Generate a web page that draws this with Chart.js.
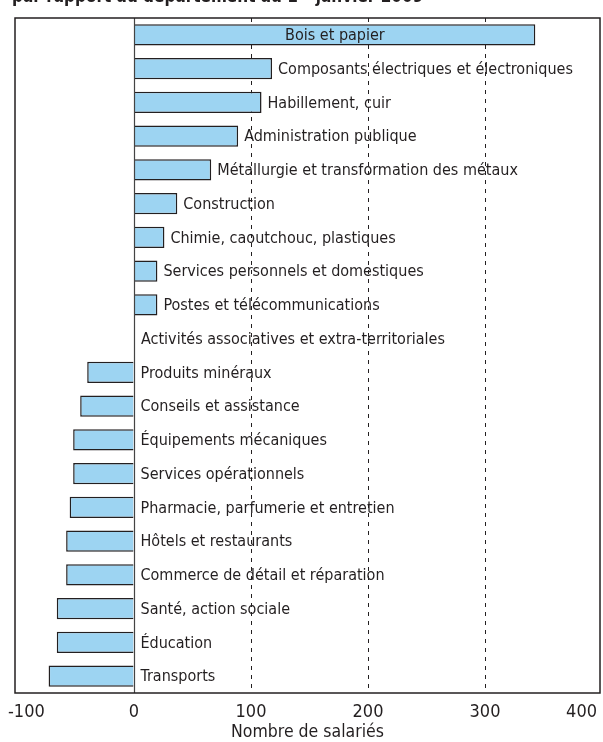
<!DOCTYPE html>
<html lang="fr">
<head>
<meta charset="utf-8">
<script src="https://cdn.jsdelivr.net/npm/chart.js@4"></script>
<style>
    html, body { margin: 0; padding: 0; background: #fff; }
    #wrap { width: 603px; height: 742px; }
</style>
</head>
<body>
<div id="wrap"><canvas id="salariesChart" width="603" height="742"></canvas></div>
<script>
// Données
const secteurs = [
    'Bois et papier',
    'Composants électriques et électroniques',
    'Habillement, cuir',
    'Administration publique',
    'Métallurgie et transformation des métaux',
    'Construction',
    'Chimie, caoutchouc, plastiques',
    'Services personnels et domestiques',
    'Postes et télécommunications',
    'Activités associatives et extra-territoriales',
    'Produits minéraux',
    'Conseils et assistance',
    'Équipements mécaniques',
    'Services opérationnels',
    'Pharmacie, parfumerie et entretien',
    'Hôtels et restaurants',
    'Commerce de détail et réparation',
    'Santé, action sociale',
    'Éducation',
    'Transports'
];
const ecarts = [343, 118, 109, 89, 66, 37, 26, 20, 20, 0, -40, -46, -52, -52, -55, -58, -58, -66, -66, -73];
const graduations = [-100, 0, 100, 200, 300, 400];

const TEXT_COLOR = '#231f20';

// police condensée (DejaVu Sans Condensed via font-stretch)
function setFont(ctx, size, bold) {
    ctx.font = (bold ? 'bold ' : '') + size + 'px "DejaVu Sans", sans-serif';
    if ('fontStretch' in ctx) ctx.fontStretch = 'condensed';
}

// Cadre, ligne du zéro, étiquettes, graduations et titres
const annotationsPlugin = {
    id: 'annotations',
    afterDatasetsDraw(chart) {
        const ctx = chart.ctx;
        const area = chart.chartArea;
        const x = chart.scales.x;
        const meta = chart.getDatasetMeta(0);

        ctx.save();
        // ligne du zéro
        const x0 = Math.round(x.getPixelForValue(0)) + 0.5;
        ctx.strokeStyle = '#444';
        ctx.lineWidth = 1.2;
        ctx.beginPath();
        ctx.moveTo(x0, area.top);
        ctx.lineTo(x0, area.bottom);
        ctx.stroke();

        // cadre
        ctx.strokeStyle = '#231f20';
        ctx.lineWidth = 1.5;
        ctx.strokeRect(15, area.top, 585, area.bottom - area.top);

        // étiquettes des barres
        setFont(ctx, 16);
        ctx.fillStyle = TEXT_COLOR;
        ctx.textBaseline = 'middle';
        meta.data.forEach(function(bar, i) {
            const label = secteurs[i];
            const w = ctx.measureText(label).width;
            const v = ecarts[i];
            if (v > 0 && bar.x + 6 + w > area.right - 4) {
                ctx.textAlign = 'center';
                ctx.fillText(label, (bar.x + bar.base) / 2, bar.y + 1);
            } else {
                ctx.textAlign = 'left';
                const start = v > 0 ? bar.x + 6 : bar.base + 7;
                ctx.fillText(label, start, bar.y + 1);
            }
        });

        // graduations de l'axe horizontal
        setFont(ctx, 18);
        ctx.textAlign = 'center';
        graduations.forEach(function(v) {
            const label = String(v);
            const w = ctx.measureText(label).width;
            let px = x.getPixelForValue(v);
            px = Math.min(Math.max(px, w / 2 + 8), chart.width - w / 2 - 6);
            ctx.fillText(label, px, 712);
        });

        // titre de l'axe
        setFont(ctx, 17.5);
        ctx.fillText('Nombre de salariés', (15 + 600) / 2, 732);

        // titre (coupé en haut de l'image)
        setFont(ctx, 17, true);
        ctx.textAlign = 'left';
        ctx.textBaseline = 'alphabetic';
        const t1 = 'par rapport au département au 1';
        ctx.fillText(t1, 12, 2);
        const w1 = ctx.measureText(t1).width;
        setFont(ctx, 10, true);
        ctx.fillText('er', 12 + w1 + 1, -5);
        const w2 = ctx.measureText('er').width;
        setFont(ctx, 17, true);
        ctx.fillText(' janvier 2009', 12 + w1 + w2 + 2, 2);
        ctx.restore();
    }
};

function initSalariesChart(canvasId) {
    const canvas = document.getElementById(canvasId);
    if (!canvas) return null;
    const ctx = canvas.getContext('2d');

    return new Chart(ctx, {
        type: 'bar',
        data: {
            labels: secteurs,
            datasets: [{
                data: ecarts,
                backgroundColor: '#9dd4f2',
                borderColor: '#231f20',
                borderWidth: 1.5,
                borderSkipped: 'start',
                barPercentage: 0.63,
                categoryPercentage: 1
            }]
        },
        options: {
            indexAxis: 'y',
            responsive: false,
            animation: false,
            events: [],
            layout: {
                padding: { top: 18, left: 17, right: 1, bottom: 49 }
            },
            plugins: {
                legend: { display: false },
                tooltip: { enabled: false }
            },
            scales: {
                x: {
                    min: -100,
                    max: 400,
                    afterBuildTicks: function(scale) {
                        scale.ticks = graduations.map(function(v) { return { value: v }; });
                    },
                    ticks: { display: false },
                    grid: {
                        drawTicks: false,
                        color: function(c) {
                            const v = c.tick ? c.tick.value : null;
                            return (v === 100 || v === 200 || v === 300) ? '#231f20' : 'rgba(0,0,0,0)';
                        },
                        lineWidth: 1
                    },
                    border: { display: false, dash: [4, 5] },
                    title: { display: false }
                },
                y: {
                    display: false,
                    grid: { display: false }
                }
            }
        },
        plugins: [annotationsPlugin]
    });
}

initSalariesChart('salariesChart');
</script>
</body>
</html>
